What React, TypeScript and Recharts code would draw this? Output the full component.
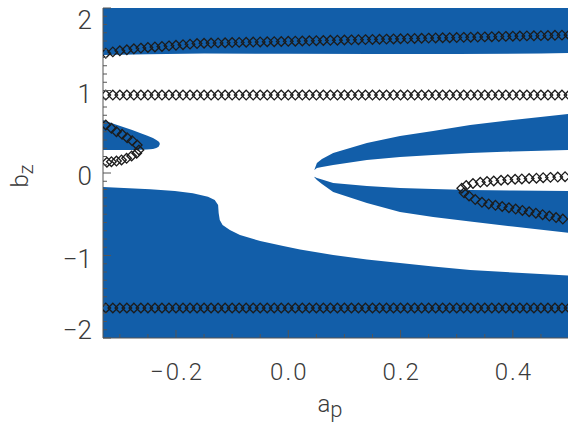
import { Area, ComposedChart, Line, XAxis, YAxis } from "recharts";

const BLUE = "#125ea9";
const INK = "#1c1c1c";
const AXIS = "#555";
const TEXT = "#3a3a3a";
const FONT = "Roboto, 'DejaVu Sans', sans-serif";

// upper blue band: lower edge, runs up to the top of the frame
const capA = [-0.33, -0.25, -0.15, 0, 0.15, 0.3, 0.45, 0.5];
const capLow = [1.43, 1.44, 1.448, 1.445, 1.442, 1.443, 1.447, 1.455];
const capTop = 2;

// lower blue region: upper edge, runs down to the bottom of the frame
const floorA = [
  -0.33, -0.246, -0.202, -0.17, -0.143, -0.131, -0.125, -0.124, -0.122, -0.117,
  -0.104, -0.086, -0.05, -0.009, 0.021, 0.08, 0.14, 0.199, 0.258, 0.324, 0.4, 0.5,
];
const floorTop = [
  -0.17, -0.198, -0.218, -0.246, -0.287, -0.327, -0.388, -0.485, -0.57, -0.63,
  -0.691, -0.752, -0.824, -0.885, -0.927, -0.994, -1.048, -1.091, -1.133, -1.176, -1.205, -1.242,
];
const floorBottom = -2;

// small lobe on the left edge
const lobeA = [-0.33, -0.31, -0.294, -0.278, -0.264, -0.252, -0.241, -0.235, -0.231, -0.229];
const lobeLow = [0.279, 0.279, 0.279, 0.279, 0.281, 0.285, 0.292, 0.302, 0.318, 0.345];
const lobeHigh = [0.642, 0.595, 0.558, 0.52, 0.485, 0.455, 0.424, 0.4, 0.382, 0.365];

// right wedge, split into an upper and a lower band around the white gap
const wingA = [0.0465, 0.051, 0.06, 0.08, 0.14, 0.199, 0.258, 0.324, 0.4, 0.5];
const upperWingLow = [0.035, 0.061, 0.073, 0.097, 0.158, 0.194, 0.218, 0.242, 0.261, 0.279];
const upperWingHigh = [0.04, 0.121, 0.17, 0.242, 0.364, 0.448, 0.509, 0.582, 0.642, 0.715];
const lowerWingLow = [-0.05, -0.085, -0.133, -0.23, -0.364, -0.473, -0.533, -0.588, -0.648, -0.727];
const lowerWingHigh = [-0.045, -0.061, -0.079, -0.121, -0.158, -0.182, -0.194, -0.206, -0.212, -0.218];

// a_p samples of the three long rows of diamonds
const rowA = [
  -0.325, -0.3125, -0.3, -0.2875, -0.275, -0.2625, -0.25, -0.2375, -0.225, -0.2125,
  -0.2, -0.1875, -0.175, -0.1625, -0.15, -0.1375, -0.125, -0.1125, -0.1, -0.0875,
  -0.075, -0.0625, -0.05, -0.0375, -0.025, -0.0125, 0, 0.0125, 0.025, 0.0375,
  0.05, 0.0625, 0.075, 0.0875, 0.1, 0.1125, 0.125, 0.1375, 0.15, 0.1625,
  0.175, 0.1875, 0.2, 0.2125, 0.225, 0.2375, 0.25, 0.2625, 0.275, 0.2875,
  0.3, 0.3125, 0.325, 0.3375, 0.35, 0.3625, 0.375, 0.3875, 0.4, 0.4125,
  0.425, 0.4375, 0.45, 0.4625, 0.475, 0.4875, 0.5,
];
const topRowB = [
  1.452, 1.468, 1.481, 1.493, 1.505, 1.514, 1.522, 1.528, 1.534, 1.541,
  1.548, 1.555, 1.562, 1.569, 1.573, 1.575, 1.577, 1.579, 1.581, 1.583,
  1.585, 1.587, 1.589, 1.591, 1.592, 1.594, 1.596, 1.598, 1.6, 1.602,
  1.604, 1.606, 1.608, 1.61, 1.612, 1.614, 1.616, 1.617, 1.619, 1.621,
  1.623, 1.625, 1.627, 1.629, 1.631, 1.633, 1.635, 1.637, 1.639, 1.64,
  1.642, 1.644, 1.646, 1.648, 1.65, 1.652, 1.654, 1.656, 1.658, 1.66,
  1.662, 1.663, 1.665, 1.667, 1.669, 1.671, 1.673,
];
const midRowB = 0.945;
const lowRowB = -1.636;

// folded branch of diamonds inside the left lobe (in drawing order)
const leftFoldA = [
  -0.325, -0.315, -0.306, -0.296, -0.287, -0.278, -0.269, -0.266,
  -0.27, -0.279, -0.288, -0.297, -0.306, -0.315, -0.323,
];
const leftFoldB = [
  0.582, 0.542, 0.501, 0.469, 0.428, 0.392, 0.339, 0.279,
  0.239, 0.206, 0.178, 0.158, 0.145, 0.137, 0.13,
];

// folded branch of diamonds on the right
const rightFoldA = [
  0.493, 0.48, 0.467, 0.454, 0.442, 0.429, 0.416, 0.404, 0.391, 0.379, 0.366, 0.354, 0.342, 0.329, 0.317,
  0.309, 0.313, 0.322, 0.333, 0.345, 0.357, 0.369, 0.381, 0.393, 0.405, 0.417, 0.429, 0.441, 0.453, 0.465, 0.477, 0.489,
];
const rightFoldB = [
  -0.045, -0.049, -0.053, -0.057, -0.063, -0.067, -0.072, -0.076, -0.082, -0.088, -0.097, -0.104, -0.113, -0.127, -0.152,
  -0.185, -0.24, -0.278, -0.322, -0.355, -0.375, -0.392, -0.406, -0.421, -0.437, -0.454, -0.47, -0.487, -0.505, -0.522, -0.54, -0.558,
];

const xTickLabels = ["−0.2", "0.0", "0.2", "0.4"];
const xMajor = [-0.2, 0, 0.2, 0.4];
const yTickLabels = ["−2", "−1", "0", "1", "2"];
const yMajor = [-2, -1, 0, 1, 2];

const band = (a: number[], lo: number[], hi: number[]) =>
  a.map((v, i) => ({ a: v, r: [lo[i], hi[i]] }));

const capData = band(capA, capLow, capA.map(() => capTop));
const floorData = band(floorA, floorA.map(() => floorBottom), floorTop);
const lobeData = band(lobeA, lobeLow, lobeHigh);
const upperWingData = band(wingA, upperWingLow, upperWingHigh);
const lowerWingData = band(wingA, lowerWingLow, lowerWingHigh);

const topRow = rowA.map((a, i) => ({ a, b: topRowB[i] }));
const midRow = rowA.map((a) => ({ a, b: midRowB }));
const lowRow = rowA.map((a) => ({ a, b: lowRowB }));
const leftFold = leftFoldA.map((a, i) => ({ a, b: leftFoldB[i] }));
const rightFold = rightFoldA.map((a, i) => ({ a, b: rightFoldB[i] }));

// tick positions: minor every 0.05 on x and 0.1 on y
const xTicks = Array.from({ length: 17 }, (_, i) => Math.round((-0.3 + i * 0.05) * 100) / 100);
const yTicks = Array.from({ length: 41 }, (_, i) => Math.round((-2 + i * 0.1) * 10) / 10);

const near = (v: number, list: number[]) => list.findIndex((m) => Math.abs(m - v) < 1e-6);

const Diamond = (p: any) => {
  const { cx, cy, index } = p;
  if (cx == null || cy == null) return <g key={`n${index}`} />;
  const r = 4.8;
  return (
    <path
      key={`d${index}`}
      d={`M${cx},${cy - r}L${cx + r},${cy}L${cx},${cy + r}L${cx - r},${cy}Z`}
      fill="none"
      stroke={INK}
      strokeWidth={1.3}
    />
  );
};

const BottomTick = (p: any) => {
  const { x, y, payload } = p;
  const k = near(payload.value, xMajor);
  return (
    <g>
      <line x1={x} x2={x} y1={y} y2={y - (k >= 0 ? 8 : 4)} stroke={AXIS} />
      {k >= 0 && (
        <text x={x + 1} y={y + 42} textAnchor="middle" fontSize={24} fontFamily={FONT}
          fontWeight={300} letterSpacing={2} fill={TEXT}>
          {xTickLabels[k]}
        </text>
      )}
    </g>
  );
};

const TopTick = (p: any) => {
  const { x, y, payload } = p;
  const k = near(payload.value, xMajor);
  return <line x1={x} x2={x} y1={y} y2={y + (k >= 0 ? 8 : 4)} stroke={AXIS} />;
};

const LeftTick = (p: any) => {
  const { x, y, payload } = p;
  const k = near(payload.value, yMajor);
  // end labels are nudged inside the frame
  const base = payload.value >= 2 ? y + 21 : payload.value <= -2 ? y + 1 : y + 12;
  return (
    <g>
      <line x1={x} x2={x + (k >= 0 ? 8 : 4)} y1={y} y2={y} stroke={AXIS} />
      {k >= 0 && (
        <text x={x - 11} y={base} textAnchor="end" fontSize={26} fontFamily={FONT}
          fontWeight={300} fill={TEXT}>
          {yTickLabels[k]}
        </text>
      )}
    </g>
  );
};

const RightTick = (p: any) => {
  const { x, y, payload } = p;
  const k = near(payload.value, yMajor);
  return <line x1={x} x2={x - (k >= 0 ? 8 : 4)} y1={y} y2={y} stroke={AXIS} />;
};

const XTitle = () => (
  <text x={330} y={412} textAnchor="middle" fontSize={24} fontFamily={FONT} fontWeight={300} fill={TEXT}>
    a<tspan dy={5} fontSize={22}>p</tspan>
  </text>
);

const YTitle = () => (
  <text transform="translate(28,176) rotate(-90)" textAnchor="middle" fontSize={24}
    fontFamily={FONT} fontWeight={300} fill={TEXT}>
    b<tspan dy={5} fontSize={20}>z</tspan>
  </text>
);

export default function App() {
  const areaProps = {
    type: "linear" as const,
    dataKey: "r",
    stroke: "none",
    fill: BLUE,
    fillOpacity: 1,
    dot: false,
    activeDot: false,
    isAnimationActive: false,
  };
  const rowProps = {
    dataKey: "b",
    stroke: "none",
    dot: Diamond,
    activeDot: false,
    isAnimationActive: false,
  };
  return (
    <div style={{ position: "absolute", left: 0, top: 0, width: 568, height: 423, overflow: "hidden", background: "#fff" }}>
      <ComposedChart width={571} height={423} margin={{ top: 8, right: 2, bottom: 45, left: 43 }}>
        <XAxis
          xAxisId="b"
          dataKey="a"
          type="number"
          domain={[-0.33, 0.5]}
          allowDataOverflow
          ticks={xTicks}
          interval={0}
          tickSize={0}
          tickMargin={0}
          tickLine={false}
          axisLine={{ stroke: AXIS }}
          height={40}
          tick={BottomTick}
          label={{ content: XTitle }}
        />
        <XAxis
          xAxisId="t"
          orientation="top"
          dataKey="a"
          type="number"
          domain={[-0.33, 0.5]}
          allowDataOverflow
          ticks={xTicks}
          interval={0}
          tickSize={0}
          tickMargin={0}
          tickLine={false}
          axisLine={{ stroke: AXIS }}
          height={0}
          tick={TopTick}
        />
        <YAxis
          yAxisId="l"
          type="number"
          domain={[-2, 2]}
          allowDataOverflow
          ticks={yTicks}
          interval={0}
          tickSize={0}
          tickMargin={0}
          tickLine={false}
          axisLine={{ stroke: AXIS }}
          width={60}
          tick={LeftTick}
          label={{ content: YTitle }}
        />
        <YAxis
          yAxisId="r"
          orientation="right"
          type="number"
          domain={[-2, 2]}
          allowDataOverflow
          ticks={yTicks}
          interval={0}
          tickSize={0}
          tickMargin={0}
          tickLine={false}
          axisLine={{ stroke: AXIS }}
          width={0}
          tick={RightTick}
        />
        <Area {...areaProps} xAxisId="b" yAxisId="l" data={capData} />
        <Area {...areaProps} xAxisId="b" yAxisId="l" data={floorData} />
        <Area {...areaProps} xAxisId="b" yAxisId="l" data={lobeData} />
        <Area {...areaProps} xAxisId="b" yAxisId="l" data={upperWingData} />
        <Area {...areaProps} xAxisId="b" yAxisId="l" data={lowerWingData} />
        <Line {...rowProps} xAxisId="b" yAxisId="l" data={topRow} />
        <Line {...rowProps} xAxisId="b" yAxisId="l" data={midRow} />
        <Line {...rowProps} xAxisId="b" yAxisId="l" data={lowRow} />
        <Line {...rowProps} xAxisId="b" yAxisId="l" data={leftFold} />
        <Line {...rowProps} xAxisId="b" yAxisId="l" data={rightFold} />
      </ComposedChart>
    </div>
  );
}
